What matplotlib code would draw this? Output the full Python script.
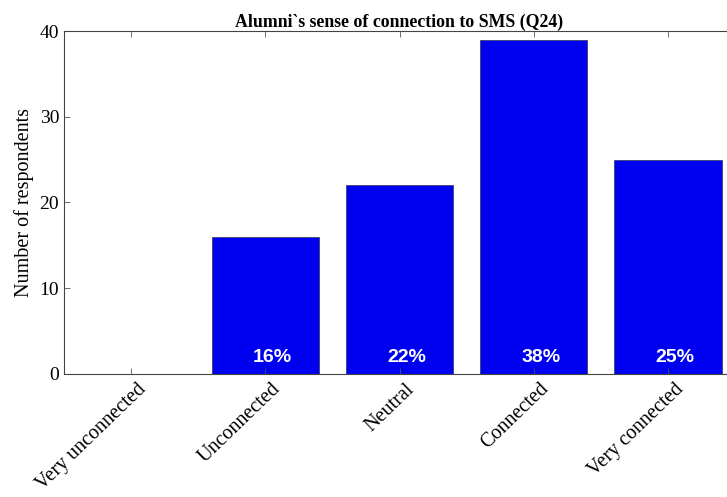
import matplotlib

matplotlib.use("Agg")

import matplotlib.pyplot as plt
import matplotlib.transforms as mtransforms

categories = ["Very unconnected", "Unconnected", "Neutral", "Connected", "Very connected"]
counts = [0, 16, 22, 39, 25]
percent_labels = ["", "16%", "22%", "38%", "25%"]
y_ticks = [0, 10, 20, 30, 40]

plt.rcParams["font.family"] = ["Liberation Serif", "DejaVu Serif"]

fig = plt.figure(figsize=(7.27, 4.97), dpi=100)
# axes runs a little past the right edge, like the cropped original
ax = fig.add_axes([64 / 727, 1 - 374 / 497, 671 / 727, 343 / 497])

positions = list(range(1, len(categories) + 1))
ax.bar(positions, counts, width=0.8, color="#0000f0", edgecolor="#303050", linewidth=0.5)

for pos, label in zip(positions, percent_labels):
    if label:
        ax.text(pos + 0.055, 1.9, label, color="white", fontweight="bold",
                fontsize=14, ha="center", va="center", family="Liberation Sans")

ax.set_xlim(0.5, 5.5)
ax.set_ylim(0, 40)
ax.set_xticks(positions)
ax.set_xticklabels(categories, rotation=44, ha="right", rotation_mode="anchor", fontsize=14.5)
ax.set_yticks(y_ticks)
ax.tick_params(axis="y", labelsize=14)
ax.tick_params(direction="in", top=True, right=True, length=4, width=0.6, color="#555555")
ax.tick_params(axis="x", pad=4)
for spine in ax.spines.values():
    spine.set_linewidth(0.8)
    spine.set_color("#444444")

# nudge rotated labels right so their ends sit just past the tick, as in the original
offset = mtransforms.ScaledTranslation(6 / 100, 0, fig.dpi_scale_trans)
for lbl in ax.get_xticklabels():
    lbl.set_transform(lbl.get_transform() + offset)

ax.set_ylabel("Number of respondents", fontsize=14.5)
ax.set_title("Alumni`s sense of connection to SMS (Q24)", fontsize=12.8, fontweight="bold", pad=3)

fig.savefig("out.png", dpi=100)
